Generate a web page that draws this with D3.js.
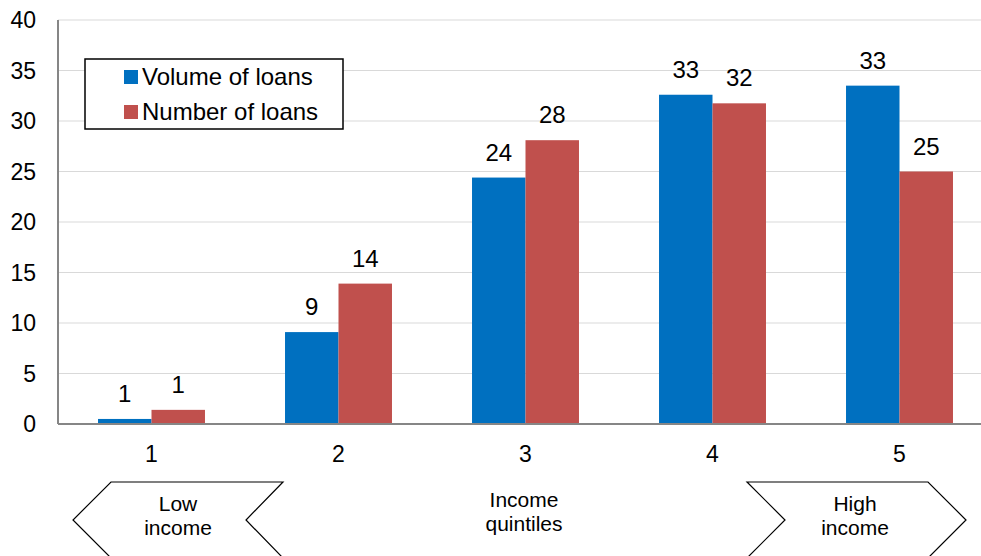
<!DOCTYPE html>
<html>
<head>
<meta charset="utf-8">
<script src="https://cdn.jsdelivr.net/npm/d3@7"></script>
<style>
  body { margin: 0; background: #fff; }
  svg { display: block; font-family: Arial, "Liberation Sans", sans-serif; }
</style>
</head>
<body>
<div id="chart"></div>
<script>
// quintiles and the two series (% shares)
var quintiles = ['1', '2', '3', '4', '5'];
var seriesNames = ['Volume of loans', 'Number of loans'];
var volume = [0.5, 9.1, 24.4, 32.6, 33.5];
var number = [1.4, 13.9, 28.1, 31.75, 25.0];
var volumeLabels = ['1', '9', '24', '33', '33'];
var numberLabels = ['1', '14', '28', '32', '25'];
var yTicks = [0, 5, 10, 15, 20, 25, 30, 35, 40];

var colors = ['#0070C0', '#C0504D'];

var width = 981, height = 556;
var plotLeft = 58, plotTop = 20, plotW = 935, plotH = 404;

var svg = d3.select('#chart')
  .append('svg')
  .attr('width', width)
  .attr('height', height);

var x = d3.scaleBand()
  .domain(quintiles)
  .range([plotLeft, plotLeft + plotW])
  .paddingInner(0.428)
  .paddingOuter(0.214);

var xSub = d3.scaleBand()
  .domain([0, 1])
  .range([0, x.bandwidth()]);

var y = d3.scaleLinear()
  .domain([0, 40])
  .range([plotTop + plotH, plotTop]);

// gridlines
svg.append('g')
  .selectAll('line')
  .data(yTicks.filter(function(d) { return d > 0; }))
  .enter().append('line')
  .attr('x1', plotLeft)
  .attr('x2', plotLeft + plotW)
  .attr('y1', function(d) { return y(d); })
  .attr('y2', function(d) { return y(d); })
  .attr('stroke', '#d9d9d9')
  .attr('stroke-width', 1);

// y tick labels
svg.append('g')
  .selectAll('text')
  .data(yTicks)
  .enter().append('text')
  .attr('x', 36)
  .attr('y', function(d) { return y(d) + 8; })
  .attr('text-anchor', 'end')
  .attr('font-size', 23)
  .attr('fill', '#000')
  .text(function(d) { return d; });

// bars
var rows = quintiles.map(function(q, i) {
  return { q: q, vals: [volume[i], number[i]], labels: [volumeLabels[i], numberLabels[i]] };
});

var groups = svg.append('g')
  .selectAll('g.group')
  .data(rows)
  .enter().append('g')
  .attr('class', 'group')
  .attr('transform', function(d) { return 'translate(' + x(d.q) + ',0)'; });

groups.selectAll('rect')
  .data(function(d) { return d.vals; })
  .enter().append('rect')
  .attr('x', function(d, i) { return xSub(i); })
  .attr('width', xSub.bandwidth())
  .attr('y', function(d) { return y(d); })
  .attr('height', function(d) { return y(0) - y(d); })
  .attr('fill', function(d, i) { return colors[i]; });

groups.selectAll('text')
  .data(function(d) { return d.vals.map(function(v, i) { return { v: v, label: d.labels[i] }; }); })
  .enter().append('text')
  .attr('x', function(d, i) { return xSub(i) + xSub.bandwidth() / 2; })
  .attr('y', function(d) { return y(d.v) - 17; })
  .attr('text-anchor', 'middle')
  .attr('font-size', 24)
  .attr('fill', '#000')
  .text(function(d) { return d.label; });

// axis lines
svg.append('line')
  .attr('x1', plotLeft).attr('x2', plotLeft)
  .attr('y1', plotTop).attr('y2', plotTop + plotH)
  .attr('stroke', '#868686').attr('stroke-width', 2);
svg.append('line')
  .attr('x1', plotLeft).attr('x2', plotLeft + plotW)
  .attr('y1', plotTop + plotH).attr('y2', plotTop + plotH)
  .attr('stroke', '#868686').attr('stroke-width', 2);

// x labels
svg.append('g')
  .selectAll('text')
  .data(quintiles)
  .enter().append('text')
  .attr('x', function(d) { return x(d) + x.bandwidth() / 2; })
  .attr('y', 462)
  .attr('text-anchor', 'middle')
  .attr('font-size', 23)
  .attr('fill', '#000')
  .text(function(d) { return d; });

// legend
var legend = svg.append('g');
legend.append('rect')
  .attr('x', 85).attr('y', 59)
  .attr('width', 258).attr('height', 70)
  .attr('fill', '#fff')
  .attr('stroke', '#000')
  .attr('stroke-width', 1.5);

var items = legend.selectAll('g.item')
  .data(seriesNames)
  .enter().append('g')
  .attr('class', 'item')
  .attr('transform', function(d, i) { return 'translate(124,' + (70 + i * 35) + ')'; });

items.append('rect')
  .attr('width', 14).attr('height', 14)
  .attr('fill', function(d, i) { return colors[i]; });

items.append('text')
  .attr('x', 18)
  .attr('y', 15)
  .attr('font-size', 24)
  .attr('fill', '#000')
  .text(function(d) { return d; });

// income arrows under the axis
var arrowLine = d3.line();
svg.append('path')
  .attr('d', arrowLine([[111, 482], [283, 482], [246, 520], [283, 558], [111, 558], [73, 520]]) + 'Z')
  .attr('fill', '#fff')
  .attr('stroke', '#000')
  .attr('stroke-width', 1.2);
svg.append('path')
  .attr('d', arrowLine([[747, 482], [928, 482], [966, 520], [928, 558], [747, 558], [785, 520]]) + 'Z')
  .attr('fill', '#fff')
  .attr('stroke', '#000')
  .attr('stroke-width', 1.2);

var notes = [
  { x: 178, lines: ['Low', 'income'] },
  { x: 524, lines: ['Income', 'quintiles'] },
  { x: 855, lines: ['High', 'income'] }
];

svg.append('g')
  .selectAll('text')
  .data(notes)
  .enter().append('text')
  .attr('text-anchor', 'middle')
  .attr('font-size', 21)
  .attr('fill', '#000')
  .each(function(d) {
    var t = d3.select(this);
    d.lines.forEach(function(line, i) {
      t.append('tspan')
        .attr('x', d.x)
        .attr('y', (d.x === 524 ? 507 : 511) + i * 24)
        .text(line);
    });
  });
</script>
</body>
</html>
